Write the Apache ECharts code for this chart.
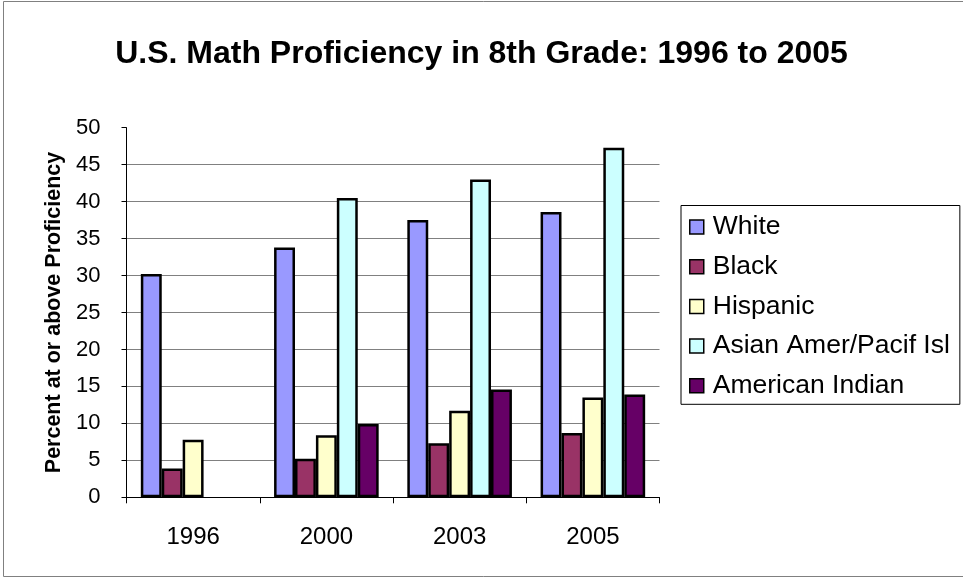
<!DOCTYPE html>
<html>
<head>
<meta charset="utf-8">
<script src="https://cdn.jsdelivr.net/npm/echarts@6/dist/echarts.min.js"></script>
<style>
  html, body { margin: 0; padding: 0; background: #fff; }
  #chart { width: 963px; height: 578px; }
</style>
</head>
<body>
<div id="chart"></div>
<script>
const years = ['1996', '2000', '2003', '2005'];
const white = [30.2, 33.8, 37.5, 38.6];
const black = [3.9, 5.2, 7.3, 8.7];
const hispanic = [7.8, 8.4, 11.7, 13.5];
const asian = [null, 40.5, 43.0, 47.3];
const amIndian = [null, 9.9, 14.6, 13.9];
const seriesNames = ['White', 'Black', 'Hispanic', 'Asian Amer/Pacif Isl', 'American Indian'];
const seriesColors = ['#9999FF', '#993366', '#FFFFCC', '#CCFFFF', '#660066'];

const font = 'Liberation Sans, Arial, sans-serif';
const chart = echarts.init(document.getElementById('chart'));

const makeBar = (name, values, i) => ({
  name,
  type: 'bar',
  data: values,
  barGap: '0%',
  barCategoryGap: '21.5%',
  itemStyle: {
    color: seriesColors[i],
    borderColor: '#000',
    borderWidth: 2.5
  },
  emphasis: { disabled: true }
});

const option = {
  backgroundColor: '#fff',
  animation: false,
  title: {
    text: 'U.S. Math Proficiency in 8th Grade: 1996 to 2005',
    left: 'center',
    top: 33,
    textStyle: { fontFamily: font, fontSize: 32, fontWeight: 'bold', color: '#000' }
  },
  grid: {
    left: 126.5,
    right: 303.5,
    top: 127.7,
    bottom: 80.7
  },
  legend: {
    orient: 'vertical',
    left: 681,
    top: 205.5,
    padding: [8, 10, 5, 8],
    itemGap: 12.7,
    itemWidth: 14,
    itemHeight: 14,
    icon: 'rect',
    borderColor: '#000',
    borderWidth: 1,
    data: seriesNames,
    itemStyle: { borderColor: '#000', borderWidth: 1.5 },
    textStyle: { fontFamily: font, fontSize: 26.5, color: '#000', padding: [0, 0, 0, 4] }
  },
  xAxis: {
    type: 'category',
    data: years,
    axisLine: { lineStyle: { color: '#000', width: 1 } },
    axisTick: { show: true, length: 6, lineStyle: { color: '#000' } },
    axisLabel: { fontFamily: font, fontSize: 24, color: '#000', margin: 28 },
    splitLine: { show: false }
  },
  yAxis: {
    type: 'value',
    min: 0,
    max: 50,
    interval: 5,
    name: 'Percent at or above Proficiency',
    nameLocation: 'middle',
    nameGap: 61,
    nameTextStyle: { fontFamily: font, fontSize: 21.5, fontWeight: 'bold', color: '#000' },
    axisLine: { show: true, lineStyle: { color: '#000', width: 1 } },
    axisTick: { show: true, length: 5, lineStyle: { color: '#000' } },
    axisLabel: { fontFamily: font, fontSize: 22, color: '#000', margin: 26 },
    splitLine: {
      show: true,
      showMinLine: false,
      showMaxLine: false,
      lineStyle: { color: '#808080', width: 1 }
    }
  },
  graphic: [
    {
      type: 'rect',
      shape: { x: 3.5, y: 1.5, width: 970, height: 575 },
      style: { fill: 'none', stroke: '#808080', lineWidth: 1 },
      silent: true,
      z: -1
    }
  ],
  series: [
    makeBar(seriesNames[0], white, 0),
    makeBar(seriesNames[1], black, 1),
    makeBar(seriesNames[2], hispanic, 2),
    makeBar(seriesNames[3], asian, 3),
    makeBar(seriesNames[4], amIndian, 4)
  ]
};

chart.setOption(option);
</script>
</body>
</html>
